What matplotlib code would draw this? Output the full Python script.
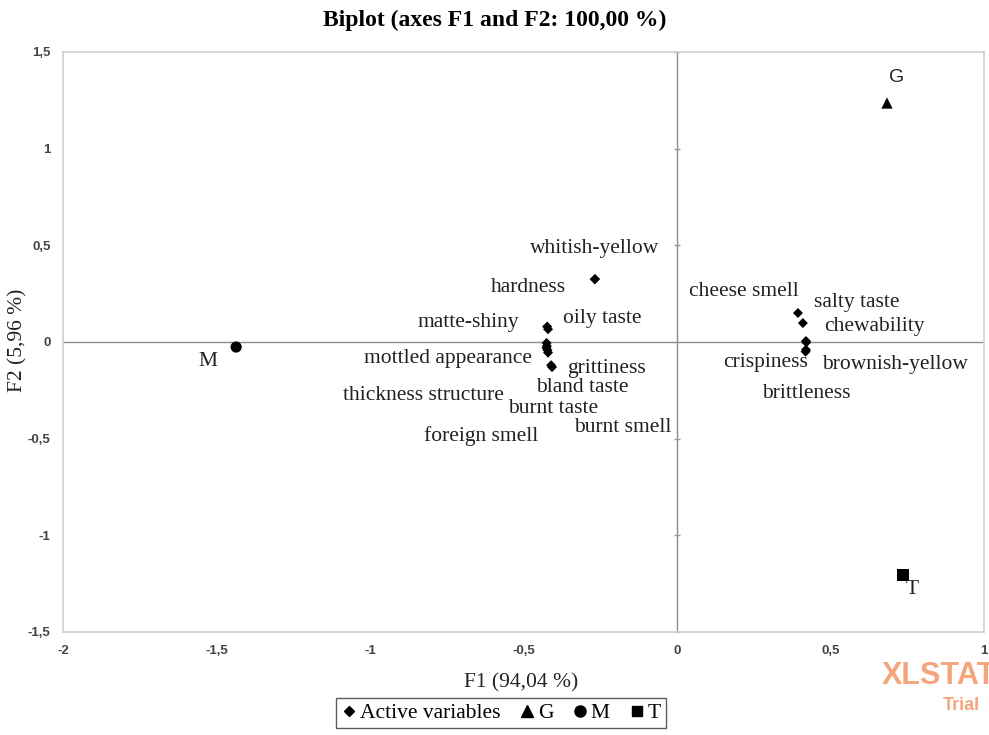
import matplotlib
matplotlib.use("Agg")
import matplotlib.pyplot as plt
from matplotlib.lines import Line2D
import numpy as np

# ---- data ----
variables = ["whitish-yellow", "hardness", "matte-shiny", "oily taste",
             "mottled appearance", "grittiness", "thickness structure",
             "bland taste", "burnt taste", "burnt smell", "foreign smell",
             "cheese smell", "salty taste", "chewability", "crispiness",
             "brownish-yellow", "brittleness"]
var_f1 = [-0.267, -0.268, -0.423, -0.420, -0.425, -0.407, -0.425,
          -0.420, -0.422, -0.410, -0.424,
          0.394, 0.410, 0.420, 0.419, 0.421, 0.420]
var_f2 = [0.326, 0.324, 0.080, 0.066, -0.005, -0.130, -0.030,
          -0.055, -0.042, -0.120, -0.020,
          0.150, 0.098, 0.005, -0.050, -0.002, -0.040]

obs_names = ["G", "M", "T"]
obs_f1 = [0.684, -1.436, 0.736]
obs_f2 = [1.236, -0.026, -1.205]

x_ticks = [-2, -1.5, -1, -0.5, 0, 0.5, 1]
y_ticks = [-1.5, -1, -0.5, 0, 0.5, 1, 1.5]

# label placement (pixel centres in the 989x735 frame, layout only)
var_label_px = [(595, 249), (528, 287), (468, 322), (602, 318),
                (448, 358), (606, 368), (423, 395), (582, 387),
                (553, 409), (623, 428), (481, 436),
                (744, 292), (857, 303), (874, 327), (766, 362),
                (895, 364), (806, 394)]
obs_label_px = [(897, 78), (208, 362), (912, 590)]

W, H = 989, 735
fig = plt.figure(figsize=(W / 100, H / 100), dpi=100)
L, R, T, B = 63, 984, 52, 632
ax = fig.add_axes([L / W, 1 - B / H, (R - L) / W, (B - T) / H])
ax.set_xlim(-2, 1)
ax.set_ylim(-1.5, 1.5)

def px2data(px, py):
    x = -2 + (px - L) / (R - L) * 3
    y = 1.5 - (py - T) / (B - T) * 3
    return x, y

for s in ax.spines.values():
    s.set_color("#cfcfcf")
    s.set_linewidth(1.2)

ax.set_xticks(x_ticks)
ax.set_yticks(y_ticks)
fmt = lambda v: ("%g" % v).replace(".", ",")
ax.set_xticklabels([fmt(v) for v in x_ticks])
ax.set_yticklabels([fmt(v) for v in y_ticks])
ax.tick_params(length=0, labelsize=9.5, colors="#444444", pad=9)
for lab in ax.get_xticklabels() + ax.get_yticklabels():
    lab.set_fontweight("bold")
    lab.set_family("Liberation Sans")

# zero lines
ax.axhline(0, color="#8c8c8c", lw=1.0, zorder=1)
ax.axvline(0, color="#8c8c8c", lw=1.0, zorder=1)
ax.plot([0] * (len(y_ticks) - 1), [t for t in y_ticks if t != 0], ls="none",
        marker="_", ms=5, color="#9a9a9a", mew=1.0, zorder=1)

serif = "Liberation Serif"
FS = 15.5

# active variables
ax.scatter(var_f1, var_f2, marker="D", s=26, color="black", zorder=3,
           edgecolors="none")
for name, (px, py) in zip(variables, var_label_px):
    lx, ly = px2data(px, py)
    ax.text(lx, ly, name, ha="center", va="center", fontsize=FS,
            family=serif, color="#222222", zorder=4)

markers = {"G": "^", "M": "o", "T": "s"}
for name, x, y, (px, py) in zip(obs_names, obs_f1, obs_f2, obs_label_px):
    ax.scatter([x], [y], marker=markers[name], s=65, color="black",
               zorder=3, edgecolors="none")
    lx, ly = px2data(px, py)
    fam = "Liberation Sans" if name == "G" else serif
    ax.text(lx, ly, name, ha="center", va="center",
            fontsize=14 if name == "G" else FS,
            family=fam, color="#222222", zorder=4)

fig.text(495 / W, 1 - 20 / H, "Biplot (axes F1 and F2: 100,00 %)",
         ha="center", va="center", fontsize=17, fontweight="bold",
         family=serif)
fig.text(521 / W, 1 - 683 / H, "F1 (94,04 %)", ha="center", va="center",
         fontsize=FS, family=serif, color="#222222")
fig.text(18 / W, 1 - 340 / H, "F2 (5,96 %)", ha="center", va="center",
         fontsize=FS, family=serif, rotation=90, color="#222222")

handles = [Line2D([], [], ls="none", marker="D", ms=5, color="black"),
           Line2D([], [], ls="none", marker="^", ms=9, color="black"),
           Line2D([], [], ls="none", marker="o", ms=8, color="black"),
           Line2D([], [], ls="none", marker="s", ms=7.5, color="black")]
leg = fig.legend(handles, ["Active variables", "G", "M", "T"], ncol=4,
                 loc="center", bbox_to_anchor=(501 / W, 1 - 713 / H),
                 prop={"family": serif, "size": FS}, frameon=True,
                 fancybox=False, edgecolor="#333333", handlelength=0.7,
                 handletextpad=0.15, columnspacing=0.9, borderpad=0.25,
                 borderaxespad=0)
leg.get_frame().set_linewidth(1.0)

# watermark
fig.text(882 / W, 1 - 676 / H, "XLSTAT", ha="left", va="center",
         fontsize=22, fontweight="bold", family="Liberation Sans",
         color="#f4a57c")
fig.text(943 / W, 1 - 706 / H, "Trial", ha="left", va="center",
         fontsize=13, fontweight="bold", family="Liberation Sans",
         color="#f4a57c")

fig.savefig("out.png", dpi=100)
